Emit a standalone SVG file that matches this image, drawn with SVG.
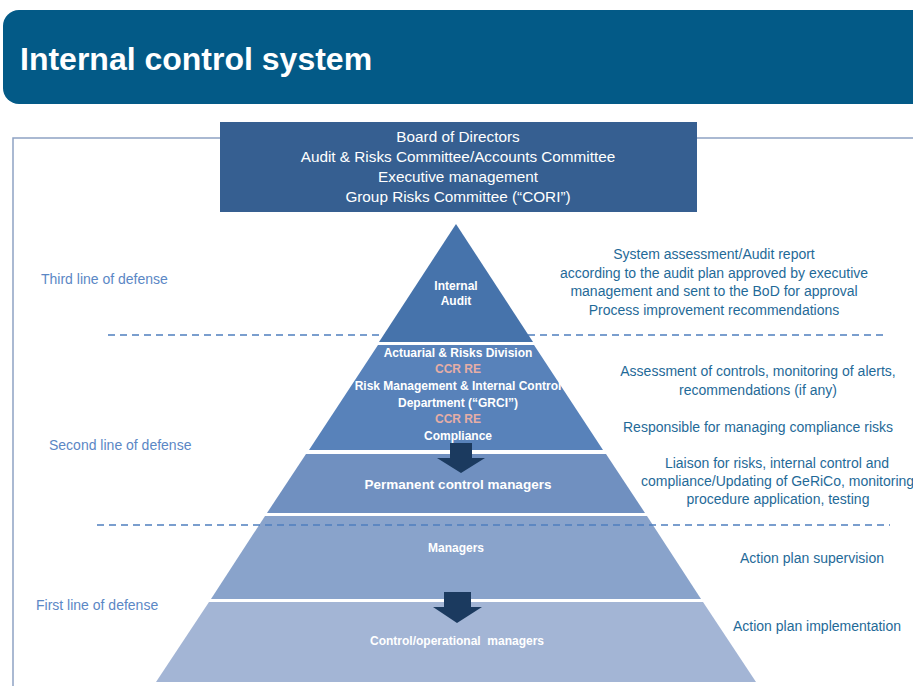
<svg xmlns="http://www.w3.org/2000/svg" width="913" height="686" viewBox="0 0 913 686">
<style>
.title{font-family:"Liberation Sans",Arial,sans-serif;font-weight:bold;font-size:32px;fill:#fff}
.box{font-family:"Liberation Sans",Arial,sans-serif;font-size:15.3px;fill:#fff;text-anchor:middle}
.pyr{font-family:"Liberation Sans",Arial,sans-serif;font-weight:bold;font-size:12px;fill:#fff;text-anchor:middle}
.ccr{fill:#e6aea6}
.lod{font-family:"Liberation Sans",Arial,sans-serif;font-size:14px;fill:#5b87c5}
.desc{font-family:"Liberation Sans",Arial,sans-serif;font-size:14px;fill:#1f6a98;text-anchor:middle}
.dash{stroke:#4f7fbf;stroke-width:1.3;stroke-dasharray:7 5;fill:none}
.arrow{fill:#1b3a5f}
</style>
<rect width="913" height="686" fill="#fff"/>
<g id="header">
<rect x="3" y="10" width="940" height="94" rx="16" fill="#035a87"/>
<text class="title" x="20" y="70">Internal control system</text>
</g>
<g id="frame">
<path d="M13 686 V138 H913" fill="none" stroke="#8ea3c4" stroke-width="1.5"/>
</g>
<line class="dash" x1="108" y1="335" x2="884" y2="335"/>
<g id="governance">
<rect x="220" y="122" width="477" height="90" fill="#365f91"/>
<text class="box" x="458" y="142">Board of Directors</text>
<text class="box" x="458" y="162">Audit &amp; Risks Committee/Accounts Committee</text>
<text class="box" x="458" y="182">Executive management</text>
<text class="box" x="458" y="202">Group Risks Committee (“CORI”)</text>
</g>
<g id="internal-audit">
<polygon points="456,224 533,342 379,342" fill="#4673ab"/>
<text class="pyr" x="456" y="290">Internal</text>
<text class="pyr" x="456" y="305">Audit</text>
</g>
<g id="second-line">
<polygon points="378,345 534,345 603,450 309,450" fill="#5882ba"/>
<text class="pyr" x="458" y="357">Actuarial &amp; Risks Division</text>
<text class="pyr ccr" x="458" y="373">CCR RE</text>
<text class="pyr" x="458" y="390">Risk Management &amp; Internal Control</text>
<text class="pyr" x="458" y="407">Department (“GRCI”)</text>
<text class="pyr ccr" x="458" y="423">CCR RE</text>
<text class="pyr" x="458" y="440">Compliance</text>
</g>
<g id="permanent-control">
<polygon points="306,454 606,454 645,513 267,513" fill="#7090c0"/>
<text class="pyr" x="458" y="489" style="font-size:13.5px">Permanent control managers</text>
</g>
<g id="managers">
<polygon points="265,516 647,516 701,599 211,599" fill="#89a3cb"/>
<text class="pyr" x="456" y="552">Managers</text>
</g>
<g id="operational">
<polygon points="209,602 703,602 756,682 156,682" fill="#a3b5d5"/>
<text class="pyr" x="457" y="645" xml:space="preserve" style="white-space:pre">Control/operational  managers</text>
</g>
<g id="connectors">
<polygon class="arrow" points="450,443 472,443 472,458 485,458 461,473 437,458 450,458"/>
<polygon class="arrow" points="444,592 471,592 471,607 482,607 457,623 433,607 444,607"/>
</g>
<line class="dash" x1="97" y1="525" x2="890" y2="525"/>
<g id="labels">
<text class="lod" x="41" y="284">Third line of defense</text>
<text class="lod" x="49" y="450">Second line of defense</text>
<text class="lod" x="36" y="610">First line of defense</text>
</g>
<g id="descriptions">
<text class="desc" x="714" y="259">System assessment/Audit report</text>
<text class="desc" x="714" y="278">according to the audit plan approved by executive</text>
<text class="desc" x="714" y="296">management and sent to the BoD for approval</text>
<text class="desc" x="714" y="315">Process improvement recommendations</text>
<text class="desc" x="758" y="376">Assessment of controls, monitoring of alerts,</text>
<text class="desc" x="758" y="395">recommendations (if any)</text>
<text class="desc" x="758" y="432">Responsible for managing compliance risks</text>
<text class="desc" x="777" y="468">Liaison for risks, internal control and</text>
<text class="desc" x="641" y="486" style="text-anchor:start">compliance/Updating of GeRiCo, monitoring</text>
<text class="desc" x="778" y="504">procedure application, testing</text>
<text class="desc" x="812" y="563">Action plan supervision</text>
<text class="desc" x="817" y="631">Action plan implementation</text>
</g>
</svg>
